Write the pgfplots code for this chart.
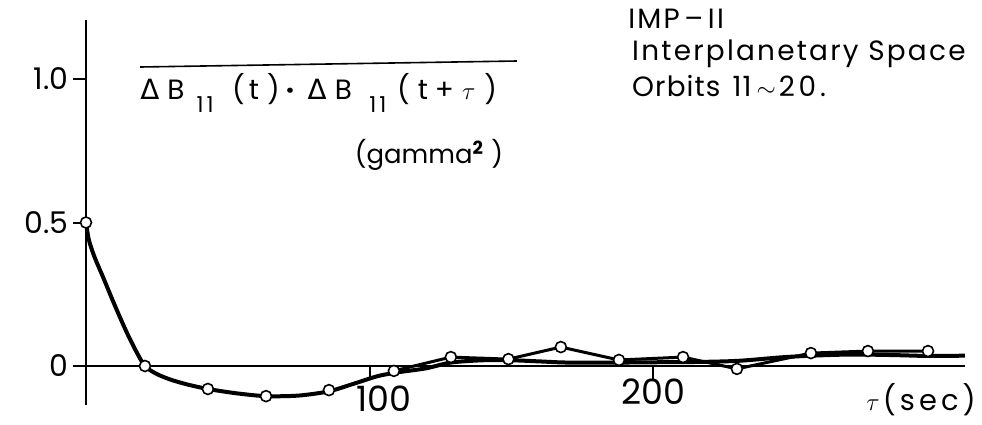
\documentclass[border=0pt]{standalone}
\usepackage{fontspec}
\setmainfont{Poppins}
\newfontfamily\dv{DejaVu Sans}
\usepackage{pgfplots}
\pgfplotsset{compat=1.18}
\newcommand\ls{\addfontfeatures{LetterSpace=8}}
\begin{document}
\begin{tikzpicture}
\begin{axis}[
  x=2.835bp, y=287bp,
  xmin=0, xmax=310, ymin=-0.136, ymax=1.2056,
  axis x line=middle, axis y line=left,
  axis line style={-, line width=2.2bp},
  hide obscured x ticks=false, hide obscured y ticks=false,
  xtick={100,200}, ytick={0,0.5,1},
  xticklabels={\hspace*{28bp}\raisebox{-7bp}[\height][\depth]{100}, 200},
  yticklabels={0,0.5,1.0},
  tick align=outside,
  major tick length=13bp,
  tick style={line width=2bp, black},
  /pgf/number format/assume math mode=true,
  yticklabel style={font=\fontsize{30}{34}\selectfont, xshift=-1bp},
  xticklabel style={font=\fontsize{35}{38}\selectfont, yshift=4bp},
  clip=false,
]
% smooth fitted curve
\addplot[line width=4bp, black, smooth, tension=0.5] coordinates {
(0,0.5) (1,0.44) (3,0.38) (6,0.31) (10,0.215) (14,0.125) (17.5,0.055) (20.8,0)
(25,-0.028) (30,-0.048) (36,-0.065) (43,-0.08) (53,-0.095) (63.5,-0.105) (75,-0.103)
(85.7,-0.088) (95,-0.06) (103,-0.035) (110,-0.022) (120,-0.008) (128.7,0.012)
(140,0.02) (150,0.02) (160,0.016) (170,0.012) (188,0.012) (200,0.013) (215,0.014)
(230,0.018) (245,0.03) (256,0.036) (270,0.04) (285,0.038) (297,0.035) (310,0.036)
};
% measured points joined by straight lines
\addplot[line width=3bp, black, mark=*, mark size=5.5bp,
  mark options={fill=white, draw=black, line width=1.6bp}] coordinates {
(108.6,-0.017) (128.7,0.031) (149,0.024) (167.5,0.066) (188,0.021) (210.6,0.031)
(229.6,-0.01) (255.7,0.045) (275.8,0.052) (297,0.052)
};
\addplot[only marks, mark=*, mark size=5.5bp,
  mark options={fill=white, draw=black, line width=1.6bp}] coordinates {
(0,0.5) (20.8,0) (43,-0.08) (63.5,-0.105) (85.7,-0.084)
};
% annotations
\draw[line width=1.6bp] (axis cs:19.05,1.0418) -- (axis cs:152.0,1.0627);
\begin{scope}[every node/.style={anchor=base, inner sep=0, font=\fontsize{28}{32}\selectfont}]
\node at (axis cs:22.57,0.9303) {\dv Δ};
\node at (axis cs:31.75,0.9303) {B};
\node[font=\fontsize{22}{26}\selectfont] at (axis cs:42.0,0.885) {1\hspace{3bp}1};
\node[anchor=base west] at (axis cs:51.5,0.9303) {(\hspace{4bp}t\hspace{8bp})};
\node at (axis cs:71.95,0.9303) {\textbf{·}};
\node at (axis cs:81.5,0.9303) {\dv Δ};
\node at (axis cs:90.8,0.9303) {B};
\node[font=\fontsize{22}{26}\selectfont] at (axis cs:103.0,0.885) {1\hspace{3bp}1};
\node[anchor=base west] at (axis cs:109.7,0.9303) {(\hspace{8bp}t\hspace{7bp}+\hspace{8bp}$\tau$\hspace{9bp})};
\end{scope}
\node[anchor=base west, inner sep=0, font=\fontsize{26}{28}\selectfont] at (axis cs:94.8,0.7073) {(gamma$^{\mathbf{2}}$\hspace{8bp})};
\node[anchor=base west, inner sep=0, font=\fontsize{28}{32}\selectfont\ls] at (axis cs:191.2,1.1777) {IMP\,–\,II};
\node[anchor=base west, inner sep=0, font=\fontsize{28}{32}\selectfont\ls] at (axis cs:192.6,1.0662) {Interplanetary Space};
\node[anchor=base west, inner sep=0, font=\fontsize{28}{32}\selectfont\addfontfeatures{LetterSpace=4}] at (axis cs:192.6,0.9373) {Orbits\hspace*{12bp}11\hspace*{5bp}$\sim$\hspace*{3bp}{\addfontfeatures{LetterSpace=14}20.}};
\node[anchor=base east, inner sep=0, font=\fontsize{29}{32}\selectfont\addfontfeatures{LetterSpace=14}] at (axis cs:313.9,-0.1533) {$\tau$\hspace{3bp}(sec)};
\coordinate (tl) at (axis cs:-30.335,1.2753);
\coordinate (br) at (axis cs:316.05,-0.2021);
\end{axis}
\pgfresetboundingbox
\path[use as bounding box] (tl) rectangle (br);
\end{tikzpicture}
\end{document}
